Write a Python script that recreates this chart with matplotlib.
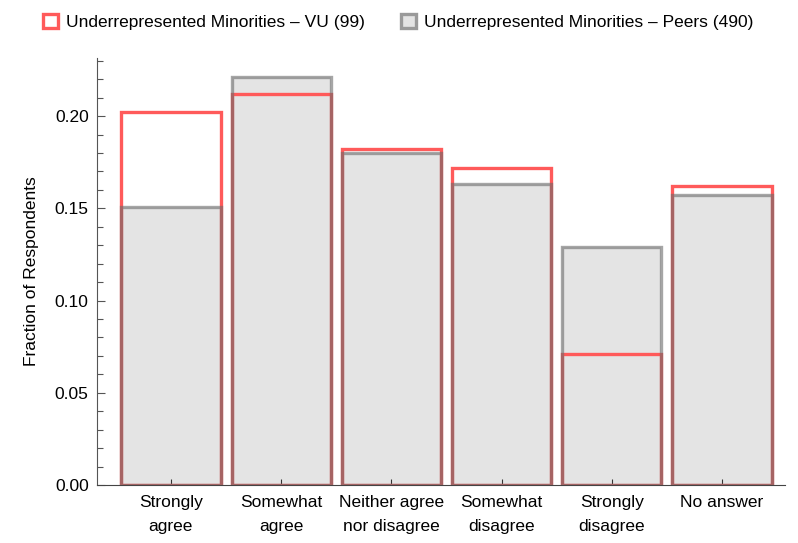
import matplotlib.pyplot as plt
from matplotlib.patches import Patch
from matplotlib.ticker import MultipleLocator
import numpy as np

categories = ["Strongly\nagree", "Somewhat\nagree", "Neither agree\nnor disagree",
              "Somewhat\ndisagree", "Strongly\ndisagree", "No answer"]
vu_values = [0.202, 0.212, 0.182, 0.172, 0.071, 0.162]
peer_values = [0.151, 0.221, 0.180, 0.163, 0.129, 0.157]
vu_label = "Underrepresented Minorities \u2013 VU (99)"
peer_label = "Underrepresented Minorities \u2013 Peers (490)"

plt.rcParams['font.family'] = ['Liberation Sans', 'DejaVu Sans']

red = '#ff5a5a'
fill_gray = '#e4e4e4'
edge_gray = (0.42, 0.42, 0.42, 0.6)
fs = 12.5

fig = plt.figure(figsize=(7.98, 5.43), dpi=100)
ax = fig.add_axes([0.1216, 0.1068, 0.862, 0.786])

x = np.arange(len(categories))
w = 0.9
lw = 2.4

# gray fill first, then red outline, then gray outline over it
ax.bar(x, peer_values, width=w, color=fill_gray, edgecolor='none', zorder=1)
ax.bar(x, vu_values, width=w, color='none', edgecolor=red, linewidth=lw, zorder=2)
ax.bar(x, peer_values, width=w, color='none', edgecolor=edge_gray, linewidth=lw, zorder=3)

ax.set_xlim(-0.67, 5.57)
ax.set_ylim(0, 0.2314)
ax.set_xticks(x)
ax.set_xticklabels(categories, fontsize=fs, linespacing=1.8)
ax.yaxis.set_major_locator(MultipleLocator(0.05))
ax.yaxis.set_minor_locator(MultipleLocator(0.01))
ax.yaxis.set_major_formatter(plt.FuncFormatter(lambda v, p: f"{v:.2f}"))
ax.tick_params(axis='y', labelsize=fs, direction='in', length=6, width=0.8, color='#555555', pad=6)
ax.tick_params(axis='y', which='minor', direction='in', length=4, width=0.8, color='#555555')
ax.tick_params(axis='x', direction='in', length=4, width=0.8, color='#333333', pad=7)
ax.set_ylabel("Fraction of Respondents", fontsize=fs, labelpad=11)

for s in ['top', 'right']:
    ax.spines[s].set_visible(False)
ax.spines['left'].set_color('#555555')
ax.spines['bottom'].set_color('#444444')
ax.spines['left'].set_linewidth(0.8)
ax.spines['bottom'].set_linewidth(0.8)

handles = [Patch(facecolor='white', edgecolor=red, linewidth=2.4),
           Patch(facecolor=fill_gray, edgecolor='#9a9a9a', linewidth=2.4)]
fig.legend(handles, [vu_label, peer_label], loc='center left', bbox_to_anchor=(0.054, 0.96),
           ncol=2, frameon=False, fontsize=fs, handlelength=0.85, handleheight=0.85,
           handletextpad=0.45, columnspacing=2.1, borderpad=0, borderaxespad=0)

fig.savefig('out.png', dpi=100)
